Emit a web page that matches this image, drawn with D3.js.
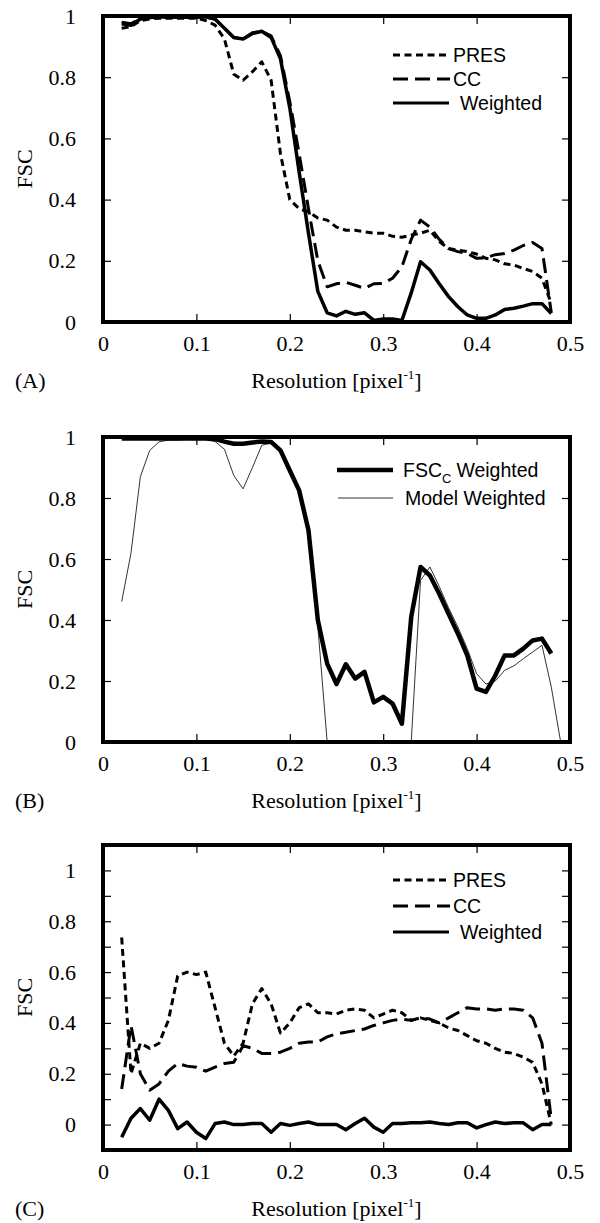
<!DOCTYPE html>
<html><head><meta charset="utf-8">
<script src="https://cdn.jsdelivr.net/npm/d3@7"></script>
<style>body{margin:0;background:#fff}</style>
</head><body>
<svg id="c" width="600" height="1223"></svg>
<script>
// ---------- data ----------
const resolution = [0.02,0.03,0.04,0.05,0.06,0.07,0.08,0.09,0.10,0.11,0.12,0.13,0.14,0.15,0.16,0.17,0.18,0.19,0.20,0.21,0.22,0.23,0.24,0.25,0.26,0.27,0.28,0.29,0.30,0.31,0.32,0.33,0.34,0.35,0.36,0.37,0.38,0.39,0.40,0.41,0.42,0.43,0.44,0.45,0.46,0.47,0.48];
const resolutionModel = [0.02,0.03,0.04,0.05,0.06,0.07,0.08,0.09,0.10,0.11,0.12,0.13,0.14,0.15,0.16,0.17,0.18,0.19,0.20,0.21,0.22,0.23,0.24,0.25,0.26,0.27,0.28,0.29,0.30,0.31,0.32,0.33,0.34,0.35,0.36,0.37,0.38,0.39,0.40,0.41,0.42,0.43,0.44,0.45,0.46,0.47,0.48,0.49];

// Panel A
const presA = [0.96,0.965,0.985,0.99,0.993,0.993,0.993,0.993,0.993,0.985,0.97,0.925,0.81,0.79,0.818,0.85,0.79,0.55,0.40,0.37,0.36,0.34,0.333,0.31,0.30,0.30,0.295,0.29,0.29,0.28,0.277,0.284,0.29,0.30,0.263,0.24,0.235,0.23,0.222,0.208,0.203,0.19,0.186,0.175,0.165,0.143,0.06];
const ccA = [0.98,0.975,0.99,0.995,0.996,0.996,0.996,0.995,0.996,0.996,0.99,0.96,0.93,0.925,0.945,0.95,0.935,0.87,0.72,0.55,0.37,0.20,0.115,0.125,0.13,0.12,0.11,0.125,0.126,0.143,0.18,0.27,0.333,0.31,0.27,0.24,0.23,0.224,0.208,0.21,0.22,0.224,0.235,0.25,0.26,0.24,0.03];
const weightedA = [0.975,0.97,0.99,0.995,0.997,0.997,0.997,0.996,0.997,0.997,0.99,0.96,0.93,0.925,0.943,0.95,0.93,0.86,0.70,0.49,0.29,0.10,0.03,0.02,0.035,0.025,0.03,0.005,0.01,0.01,0.005,0.095,0.197,0.17,0.125,0.083,0.05,0.023,0.012,0.012,0.023,0.041,0.045,0.052,0.06,0.06,0.028];

// Panel B
const fscCWeightedB = [0.995,0.995,0.995,0.995,0.995,0.995,0.995,0.995,0.995,0.995,0.993,0.985,0.978,0.978,0.982,0.985,0.984,0.956,0.89,0.825,0.694,0.40,0.257,0.19,0.255,0.208,0.23,0.13,0.148,0.126,0.06,0.41,0.574,0.546,0.486,0.42,0.355,0.284,0.175,0.164,0.218,0.284,0.284,0.306,0.333,0.339,0.29];
const modelWeightedB = [0.46,0.62,0.87,0.956,0.984,0.99,0.99,0.992,0.993,0.993,0.985,0.96,0.874,0.83,0.90,0.973,0.98,0.955,0.89,0.82,0.69,0.38,0.0,0.0,0.0,0.0,0.0,0.0,0.0,0.0,0.0,0.0,0.53,0.574,0.51,0.44,0.377,0.306,0.224,0.19,0.20,0.235,0.25,0.273,0.295,0.317,0.18,0.0];

// Panel C
const presC = [0.736,0.20,0.32,0.30,0.32,0.41,0.585,0.60,0.59,0.60,0.46,0.32,0.27,0.32,0.475,0.535,0.475,0.36,0.40,0.46,0.475,0.44,0.44,0.435,0.45,0.455,0.45,0.42,0.435,0.45,0.44,0.41,0.42,0.41,0.40,0.38,0.37,0.35,0.33,0.32,0.30,0.285,0.28,0.265,0.245,0.16,0.0];
const ccC = [0.14,0.39,0.20,0.135,0.16,0.21,0.24,0.23,0.226,0.21,0.226,0.24,0.245,0.31,0.30,0.28,0.28,0.285,0.30,0.32,0.325,0.325,0.345,0.357,0.363,0.37,0.376,0.39,0.40,0.41,0.415,0.41,0.42,0.415,0.40,0.42,0.44,0.46,0.455,0.455,0.45,0.455,0.455,0.45,0.42,0.32,0.02];
const weightedC = [-0.05,0.025,0.063,0.017,0.10,0.056,-0.016,0.01,-0.03,-0.055,0.004,0.01,0.0,0.0,0.004,0.004,-0.03,0.004,-0.003,0.004,0.01,0.0,0.0,0.0,-0.02,0.004,0.025,-0.01,-0.03,0.004,0.004,0.007,0.007,0.01,0.004,0.0,0.007,0.007,-0.013,0.0,0.01,0.004,0.007,0.007,-0.02,0.0,0.0];

// ticks
const xTicks = [0,0.1,0.2,0.3,0.4,0.5];
const xTickLabels = ["0","0.1","0.2","0.3","0.4","0.5"];
const yTicksAB = [0,0.2,0.4,0.6,0.8,1];
const yTickLabelsAB = ["0","0.2","0.4","0.6","0.8","1"];
const yTicksC = [0,0.1,0.2,0.3,0.4,0.5,0.6,0.7,0.8,0.9,1];
const yTickLabelsC = ["0","","0.2","","0.4","","0.6","","0.8","","1"];

const legendA = ["PRES","CC","Weighted"];
const legendB = ["FSC","Model Weighted"];
const legendC = ["PRES","CC","Weighted"];
const panelLabels = ["(A)","(B)","(C)"];

// ---------- drawing ----------
const svg = d3.select("#c");
const X0 = 103, X1 = 570;
const x = d3.scaleLinear().domain([0,0.5]).range([X0,X1]);
const SERIF = "'Liberation Serif','Times New Roman',serif";
const SANS = "'Liberation Sans',Arial,sans-serif";

const styles = {
  pres: {w:3, dash:"7,4.5", color:"#000"},
  cc: {w:3, dash:"15,7", color:"#000"},
  weighted: {w:3.5, dash:null, color:"#000"},
  thick: {w:4.5, dash:null, color:"#000"},
  thin: {w:1, dash:null, color:"#333"}
};

function styleAxis(sel){
  sel.select(".domain").remove();
  sel.selectAll(".tick line").attr("stroke","#000").attr("stroke-width",1.2);
  sel.selectAll(".tick text").attr("font-family",SERIF).attr("font-size",22).attr("fill","#000");
}

function drawPanel(cfg){
  const g = svg.append("g");
  const y = d3.scaleLinear().domain(cfg.yDomain).range([cfg.bottom, cfg.top]);

  g.append("g").attr("transform",`translate(0,${cfg.bottom})`)
    .call(d3.axisBottom(x).tickValues(xTicks).tickFormat((d,i)=>xTickLabels[i]).tickSize(-8).tickPadding(13))
    .call(styleAxis);
  g.append("g").attr("transform",`translate(0,${cfg.top})`)
    .call(d3.axisTop(x).tickValues(xTicks).tickFormat("").tickSize(-8))
    .call(styleAxis);
  g.append("g").attr("transform",`translate(${X0},0)`)
    .call(d3.axisLeft(y).tickValues(cfg.yTicks).tickFormat((d,i)=>cfg.yLabels[i]).tickSize(-8).tickPadding(27))
    .call(styleAxis);
  g.append("g").attr("transform",`translate(${X1},0)`)
    .call(d3.axisRight(y).tickValues(cfg.yTicks).tickFormat("").tickSize(-8))
    .call(styleAxis);

  const line = d3.line().x(d=>x(d[0])).y(d=>y(d[1]));
  cfg.series.forEach(s=>{
    const st = styles[s.style];
    g.append("path").datum(d3.zip(s.x, s.y))
      .attr("d",line).attr("fill","none")
      .attr("stroke",st.color).attr("stroke-width",st.w)
      .attr("stroke-dasharray",st.dash)
      .attr("stroke-linejoin","round");
  });

  g.append("rect").attr("x",X0).attr("y",cfg.top).attr("width",X1-X0).attr("height",cfg.bottom-cfg.top)
    .attr("fill","none").attr("stroke","#000").attr("stroke-width",4);

  // y title
  g.append("text").attr("transform",`translate(32,${(cfg.top+cfg.bottom)/2}) rotate(-90)`)
    .attr("text-anchor","middle").attr("font-family",SERIF).attr("font-size",22).text("FSC");
  // x title
  const t = g.append("text").attr("x",(X0+X1)/2).attr("y",cfg.bottom+66)
    .attr("text-anchor","middle").attr("font-family",SERIF).attr("font-size",22);
  t.append("tspan").text("Resolution [pixel");
  t.append("tspan").attr("font-size",13).attr("dy",-9).text("-1");
  t.append("tspan").attr("dy",9).text("]");
  // panel label
  g.append("text").attr("x",15).attr("y",cfg.bottom+66).attr("font-family",SERIF).attr("font-size",22).text(cfg.label);

  // legend
  cfg.legend.forEach(l=>{
    const st = styles[l.style];
    g.append("line").attr("x1",l.x1).attr("x2",l.x2).attr("y1",l.y).attr("y2",l.y)
      .attr("stroke",st.color).attr("stroke-width",l.w||st.w).attr("stroke-dasharray",st.dash);
    const tx = g.append("text").attr("x",l.tx).attr("y",l.y+7).attr("font-family",SANS).attr("font-size",19.5);
    tx.append("tspan").text(l.text);
    if(l.sub){
      tx.append("tspan").attr("font-size",13).attr("dy",6).text(l.sub);
      tx.append("tspan").attr("dy",-6).attr("dx",5).text(l.after);
    }
  });
}

drawPanel({
  top:16, bottom:322, yDomain:[0,1], yTicks:yTicksAB, yLabels:yTickLabelsAB, label:panelLabels[0],
  series:[
    {x:resolution, y:presA, style:"pres"},
    {x:resolution, y:ccA, style:"cc"},
    {x:resolution, y:weightedA, style:"weighted"}
  ],
  legend:[
    {x1:393,x2:450,y:55,tx:453,text:legendA[0],style:"pres"},
    {x1:393,x2:450,y:79,tx:453,text:legendA[1],style:"cc"},
    {x1:393,x2:449,y:103,tx:460,text:legendA[2],style:"weighted",w:3}
  ]
});

drawPanel({
  top:437, bottom:742, yDomain:[0,1], yTicks:yTicksAB, yLabels:yTickLabelsAB, label:panelLabels[1],
  series:[
    {x:resolutionModel, y:modelWeightedB, style:"thin"},
    {x:resolution, y:fscCWeightedB, style:"thick"}
  ],
  legend:[
    {x1:337,x2:393,y:470,tx:403,text:legendB[0],sub:"C",after:"Weighted",style:"thick"},
    {x1:338,x2:393,y:498,tx:405,text:legendB[1],style:"thin"}
  ]
});

drawPanel({
  top:845, bottom:1150, yDomain:[-0.1,1.1], yTicks:yTicksC, yLabels:yTickLabelsC, label:panelLabels[2],
  series:[
    {x:resolution, y:presC, style:"pres"},
    {x:resolution, y:ccC, style:"cc"},
    {x:resolution, y:weightedC, style:"weighted"}
  ],
  legend:[
    {x1:393,x2:450,y:880,tx:453,text:legendC[0],style:"pres"},
    {x1:393,x2:450,y:906,tx:453,text:legendC[1],style:"cc"},
    {x1:393,x2:449,y:932,tx:460,text:legendC[2],style:"weighted",w:3}
  ]
});
</script>
</body></html>
